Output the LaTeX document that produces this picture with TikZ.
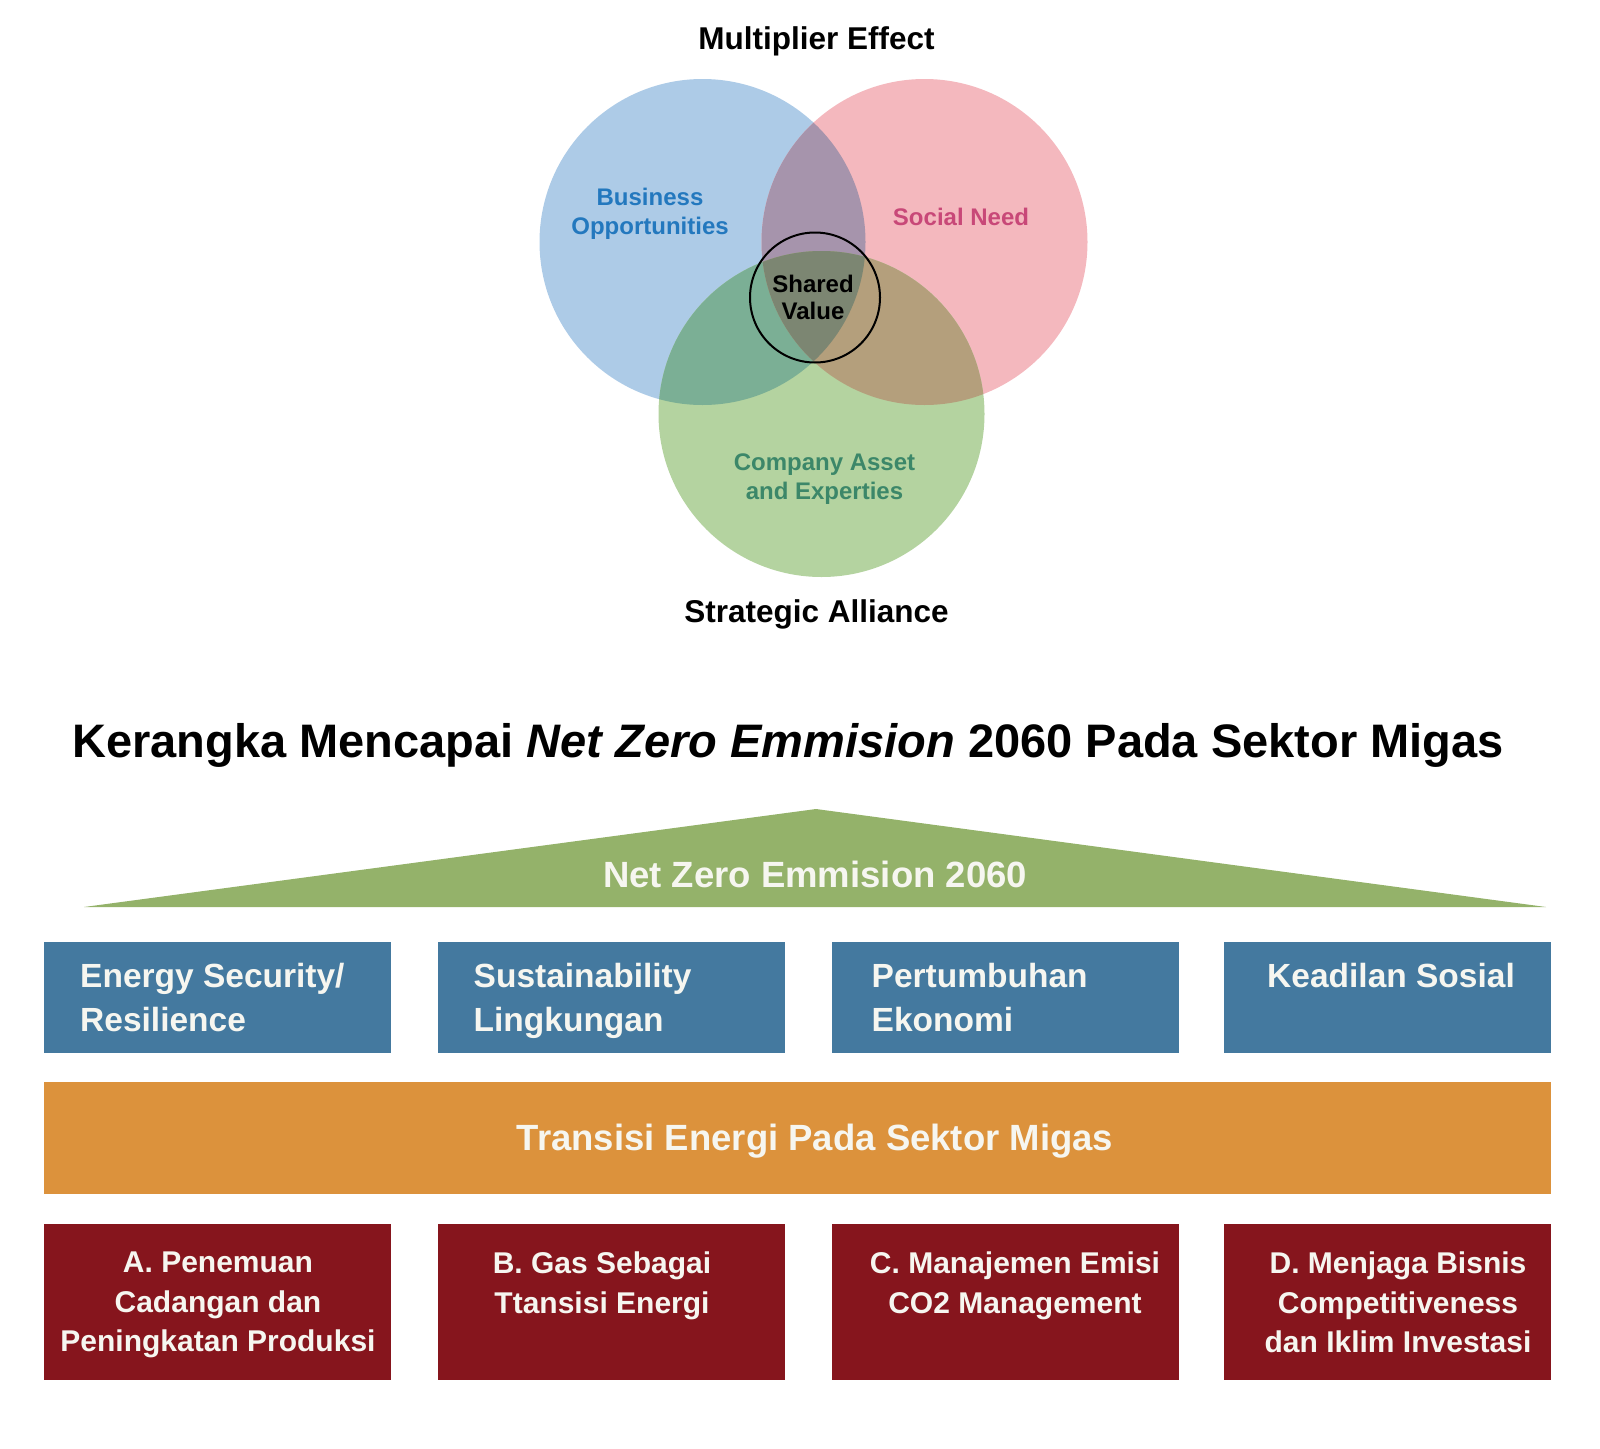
\documentclass[tikz,border=0pt]{standalone}
\usepackage{fontspec}
\setmainfont{Liberation Sans}
\usepackage{xcolor}
\usepackage{tikz}

\definecolor{vennblue}{RGB}{173,203,231}
\definecolor{vennpink}{RGB}{244,184,190}
\definecolor{venngreen}{RGB}{180,211,160}
\definecolor{vennbp}{RGB}{166,148,172}
\definecolor{vennbg}{RGB}{123,175,149}
\definecolor{vennpg}{RGB}{180,159,124}
\definecolor{vennall}{RGB}{124,134,114}
\definecolor{bizfont}{RGB}{35,120,190}
\definecolor{socfont}{RGB}{200,72,120}
\definecolor{assetfont}{RGB}{60,135,105}
\definecolor{roofgreen}{RGB}{148,178,106}
\definecolor{pillarblue}{RGB}{68,121,159}
\definecolor{transorange}{RGB}{220,146,60}
\definecolor{programred}{RGB}{134,21,29}
\definecolor{lightfont}{RGB}{246,246,240}

\begin{document}
\begin{tikzpicture}[x=1pt, y=-1pt,
    pillar/.style={fill=pillarblue, minimum width=347pt, minimum height=111pt, inner sep=0pt},
    program/.style={fill=programred, minimum width=347pt, minimum height=156.5pt, inner sep=0pt},
    pillartext/.style={anchor=north west, inner sep=0pt, align=left, text=lightfont, font=\fontsize{33.5}{44}\selectfont\bfseries},
    programtext/.style={anchor=north, inner sep=0pt, align=center, text=lightfont, font=\fontsize{30}{39.5}\selectfont\bfseries},
    venntext/.style={anchor=north, inner sep=0pt, align=center, font=\fontsize{24}{29.5}\selectfont\bfseries},
    headtext/.style={anchor=base, inner sep=0pt, font=\fontsize{31.5}{38}\selectfont\bfseries}]
  \useasboundingbox (0,0) rectangle (1600,1448);

  \coordinate (BO) at (702.5, 242);
  \coordinate (SN) at (924.5, 242);
  \coordinate (CA) at (821.5, 414);
  \coordinate (SV) at (815, 297.5);

  \fill[vennblue]  (BO) circle (163);
  \fill[vennpink]  (SN) circle (163);
  \fill[venngreen] (CA) circle (163);
  \begin{scope}
    \clip (BO) circle (163);
    \fill[vennbp] (SN) circle (163);
    \fill[vennbg] (CA) circle (163);
  \end{scope}
  \begin{scope}
    \clip (SN) circle (163);
    \fill[vennpg] (CA) circle (163);
  \end{scope}
  \begin{scope}
    \clip (BO) circle (163);
    \clip (SN) circle (163);
    \fill[vennall] (CA) circle (163);
  \end{scope}
  \draw[line width=2pt] (SV) circle (65);

  \node[headtext]                  (MULT)  at (816.5,  49)    {Multiplier Effect};
  \node[headtext]                  (ALLI)  at (816.5, 622)    {Strategic Alliance};
  \node[venntext, text=bizfont]    (BIZ)   at (650,   187.5)  {Business \\ Opportunities};
  \node[venntext, text=socfont]    (SOC)   at (961,   207.5)  {Social Need};
  \node[venntext, text=assetfont]  (ASSET) at (824.5, 453.5)  {Company Asset \\ and Experties};
  \node[venntext, font=\fontsize{24}{27}\selectfont\bfseries] (SHV) at (813, 274.5) {Shared \\ Value};

  \node[anchor=base, inner sep=0pt, font=\fontsize{47}{56}\selectfont\bfseries] (TTL) at (788, 757)
    {Kerangka Mencapai \textit{Net Zero Emmision} 2060 Pada Sektor Migas};

  \coordinate (RL) at (84, 907);
  \coordinate (RT) at (816, 809);
  \coordinate (RR) at (1546, 907);
  \fill[roofgreen] (RL) -- (RT) -- (RR) -- cycle;
  \node[anchor=base, inner sep=0pt, text=lightfont, font=\fontsize{36.5}{44}\selectfont\bfseries] (NZE) at (815, 887) {Net Zero Emmision 2060};

  \node[pillar]                      (ES) at ( 217.5, 997.5) {};
  \node[pillar]                      (SL) at ( 611.5, 997.5) {};
  \node[pillar]                      (PE) at (1005,   997.5) {};
  \node[pillar, minimum width=327pt] (KS) at (1387.5, 997.5) {};

  \node[pillartext] (ES-t) at (  80,   963) {Energy Security/ \\ Resilience};
  \node[pillartext] (SL-t) at ( 473.5, 963) {Sustainability \\ Lingkungan};
  \node[pillartext] (PE-t) at ( 871.5, 963) {Pertumbuhan \\ Ekonomi};
  \node[pillartext] (KS-t) at (1267,   963) {Keadilan Sosial};

  \node[fill=transorange, minimum width=1507pt, minimum height=112pt, inner sep=0pt] (TE) at (797.5, 1138) {};
  \node[anchor=base, inner sep=0pt, text=lightfont, font=\fontsize{36.5}{44}\selectfont\bfseries] (TE-t) at (815, 1150) {Transisi Energi Pada Sektor Migas};

  \node[program]                      (A) at ( 217.5, 1301.75) {};
  \node[program]                      (B) at ( 611.5, 1301.75) {};
  \node[program]                      (C) at (1005,   1301.75) {};
  \node[program, minimum width=327pt] (D) at (1387.5, 1301.75) {};

  \node[programtext] (A-t) at ( 218, 1252) {A. Penemuan \\ Cadangan dan \\ Peningkatan Produksi};
  \node[programtext] (B-t) at ( 602, 1252) {B. Gas Sebagai \\ Ttansisi Energi};
  \node[programtext] (C-t) at (1015, 1252) {C. Manajemen Emisi \\ CO2 Management};
  \node[programtext] (D-t) at (1398, 1252) {D. Menjaga Bisnis \\ Competitiveness \\ dan Iklim Investasi};
\end{tikzpicture}
\end{document}
